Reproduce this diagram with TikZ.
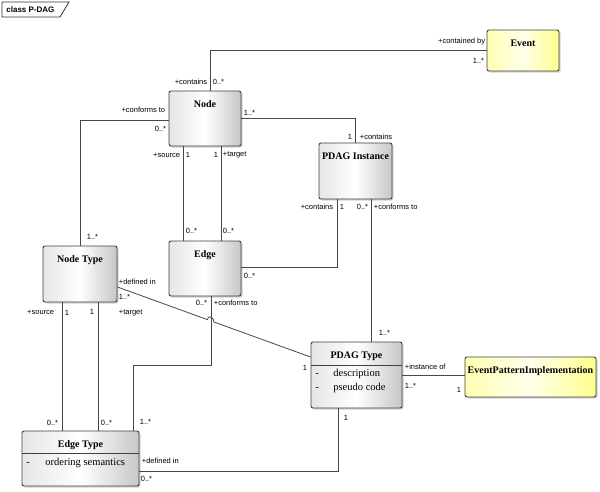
\documentclass[tikz,border=0pt]{standalone}
\usepackage{fontspec}
\setmainfont{Liberation Serif}
\setsansfont{Liberation Sans}
\usetikzlibrary{shadows}

\begin{document}
\begin{tikzpicture}[x=1pt, y=-1pt, line width=0.8pt,
  cls/.style={draw=black!75, line width=0.9pt, rounded corners=2pt, inner sep=0pt,
    drop shadow={shadow xshift=1.5pt, shadow yshift=-1.5pt, opacity=0.35},
    left color=black!10, right color=black!22, middle color=white},
  ycls/.style={cls, left color=yellow!30, right color=yellow!45, middle color=yellow!8},
  conn/.style={draw=black!72, line width=0.8pt},
  lbl/.style={font=\sffamily\fontsize{7.5}{8}\selectfont, inner sep=0.5pt},
  ttl/.style={font=\bfseries\fontsize{10}{12}\selectfont, inner sep=0pt, anchor=base},
  attr/.style={font=\fontsize{10.5}{12}\selectfont, inner sep=0pt, anchor=base west}]
  \useasboundingbox (0,0) rectangle (600,491);

  % frame tab
  \draw[draw=black!80] (2,2) -- (69,2) -- (60,17) -- (2,17) -- cycle;
  \node[font=\sffamily\bfseries\fontsize{8}{9}\selectfont, inner sep=0pt, anchor=west] (frame) at (6,9.5) {class P-DAG};

  % classes
  \node[cls, minimum width=72pt, minimum height=55pt] (nd) at (205,118.5) {};
  \node[ycls, minimum width=72pt, minimum height=41pt] (ev) at (523,50.5) {};
  \node[cls, minimum width=73pt, minimum height=56pt] (pi) at (355.5,171) {};
  \node[cls, minimum width=72pt, minimum height=55pt] (ed) at (205,268.5) {};
  \node[cls, minimum width=74pt, minimum height=56pt] (nt) at (80,274) {};
  \node[cls, minimum width=91pt, minimum height=66pt] (pt) at (356.5,375) {};
  \node[ycls, minimum width=131pt, minimum height=40pt] (ep) at (530.5,377) {};
  \node[cls, minimum width=117pt, minimum height=55pt] (et) at (80.5,458.5) {};

  \foreach \b/\t in {nd/Node, ev/Event, pi/PDAG Instance, ed/Edge, nt/Node Type,
      pt/PDAG Type, ep/EventPatternImplementation, et/Edge Type}
    \node[ttl] (\b-title) at ([yshift=-16.5pt]\b.north) {\t};

  % compartments
  \draw[draw=black!75] ([yshift=-24pt]pt.north west) -- ([yshift=-24pt]pt.north east);
  \draw[draw=black!75] ([yshift=-23pt]et.north west) -- ([yshift=-23pt]et.north east);
  \foreach \px/\py/\txt [count=\i] in {315/376.5/-, 333/376.5/description,
      315/390/-, 333/390/pseudo code, 26/465/-, 45/465/ordering semantics}
    \node[attr] (att\i) at (\px,\py) {\txt};

  % associations
  \draw[conn] ([xshift=5pt]nd.north) |- (ev.west);
  \draw[conn] (nd.east) -| (pi.north);
  \draw[conn] ([yshift=-1.5pt]nd.west) -| (nt.north);
  \draw[conn] ([xshift=-22pt]nd.south) -- ([xshift=-22pt]nd.south |- ed.north);
  \draw[conn] ([xshift=16pt]nd.south) -- ([xshift=16pt]nd.south |- ed.north);
  \draw[conn] ([yshift=1.5pt]ed.east) -| ([xshift=-18.5pt]pi.south);
  \draw[conn] ([xshift=15.5pt]pi.south) -- ([xshift=15.5pt]pi.south |- pt.north);
  \draw[conn] (pt.east) -- (pt.east -| ep.west);
  \draw[conn] ([xshift=6pt]ed.south) -- ++(0,69) -| ([xshift=52.5pt]et.north);
  \draw[conn] ([xshift=-18pt]nt.south) -- ([xshift=-18pt]nt.south |- et.north);
  \draw[conn] ([xshift=18pt]nt.south) -- ([xshift=18pt]nt.south |- et.north);
  \draw[conn] ([yshift=-12.5pt]et.east) -| ([xshift=-18.5pt]pt.south);
  \path ([yshift=-13pt]nt.east) coordinate (dA) -- coordinate[pos=0.466] (j1)
    coordinate[pos=0.5] (j2) ([yshift=18pt]pt.west) coordinate (dB);
  \draw[conn] (dA) -- (j1) .. controls +(0,-5) and +(0,-5) .. (j2) -- (dB);

  % role names and multiplicities
  \foreach \px/\py/\an/\txt [count=\i] in {
      208/82/east/+contains, 212/82/west/0..*, 486/42/east/+contained by, 485/61/east/1..*,
      243/113/west/1..*, 353/137/east/1, 359/137/west/+contains,
      166/110/east/+conforms to, 167/129/east/0..*, 86/237/west/1..*,
      181/155/east/+source, 185/155/west/1, 219/155/east/1, 222/155/west/+target,
      185/231/west/0..*, 222/231/west/0..*, 243/276/west/0..*,
      334/207/east/+contains, 339/207/west/1, 369/207/east/0..*, 373/207/west/+conforms to,
      378/333/west/1..*, 118/282/west/+defined in, 118/297/west/1..*,
      208/303/east/0..*, 213/303/west/+conforms to,
      55/312/east/+source, 64/313/west/1, 95/312/east/1, 118/313/west/+target,
      59/423/east/0..*, 100/423/west/0..*, 139/422/west/1..*,
      308/368/east/1, 404/367/west/+instance of, 404/386/west/1..*, 462/390/east/1,
      343/418/west/1, 141/461/west/+defined in, 140/479/west/0..*}
    \node[lbl, anchor=\an] (lab\i) at (\px,\py) {\txt};
\end{tikzpicture}
\end{document}
